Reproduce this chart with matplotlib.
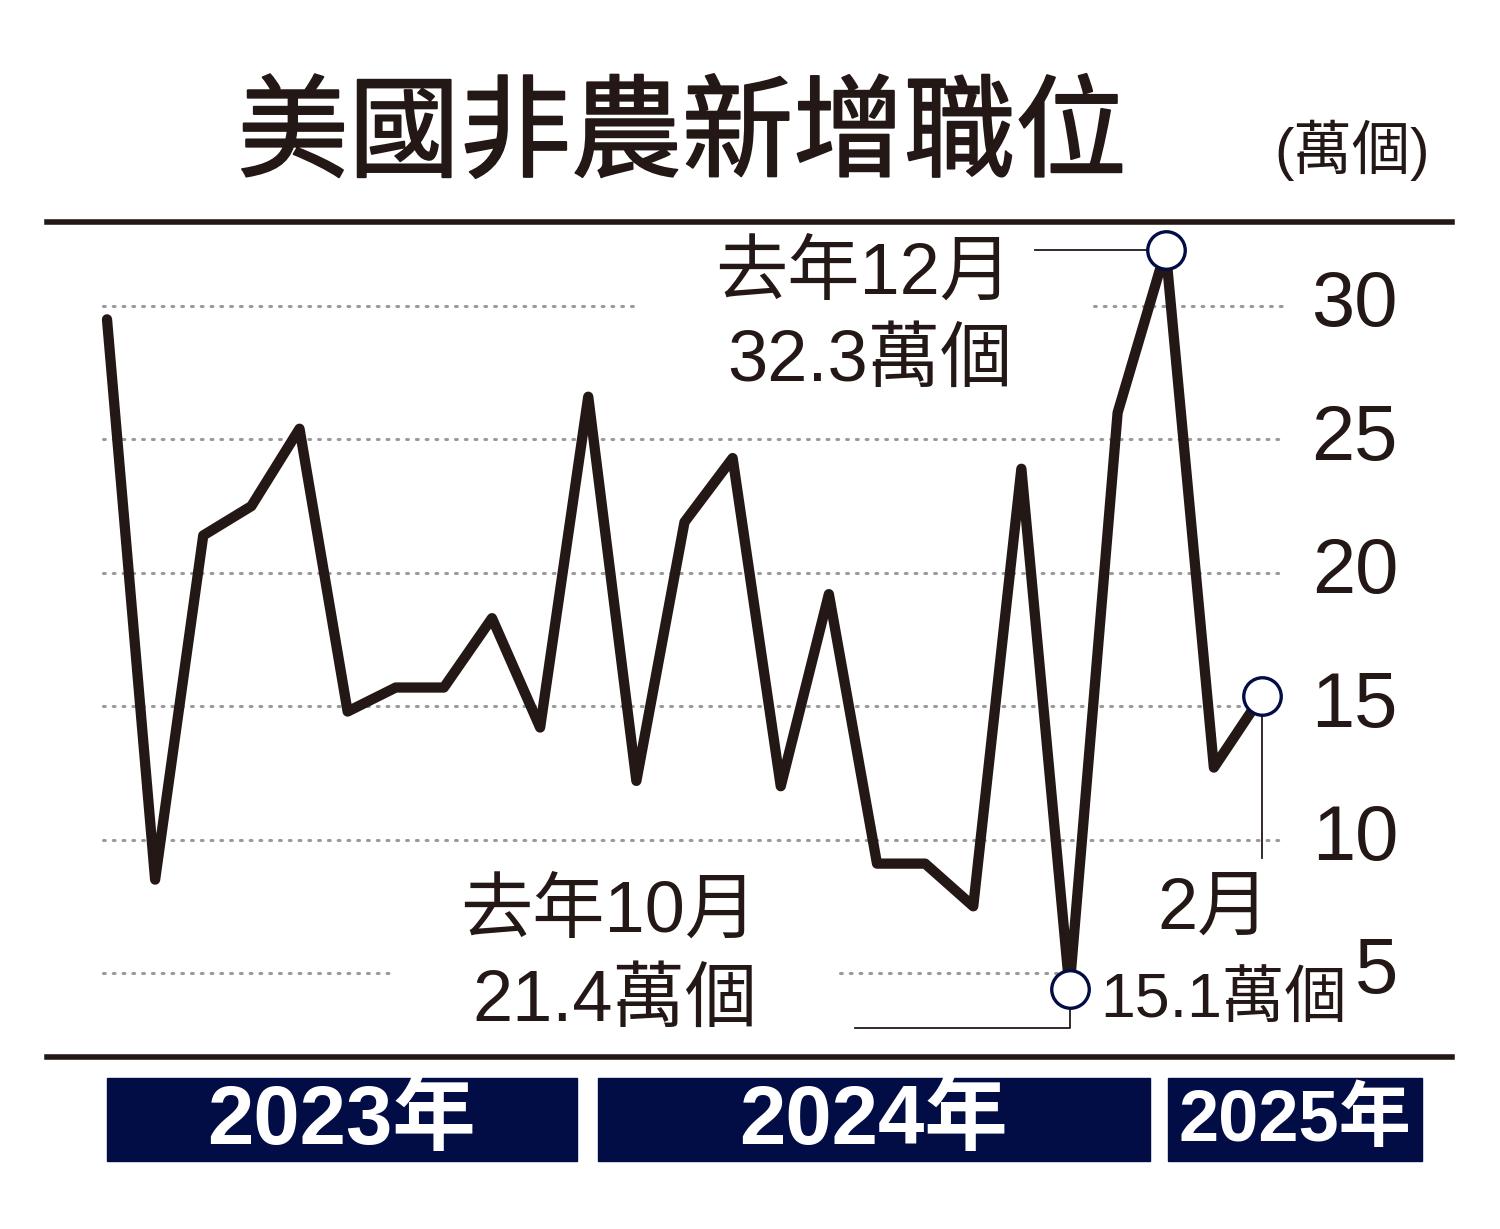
import matplotlib
matplotlib.use("Agg")
import matplotlib.pyplot as plt
import matplotlib.patheffects as pe
from matplotlib.patches import Rectangle

# 美國非農新增職位 (萬個), 2023年2月 - 2025年2月
months = ["2023-02", "2023-03", "2023-04", "2023-05", "2023-06", "2023-07",
          "2023-08", "2023-09", "2023-10", "2023-11", "2023-12",
          "2024-01", "2024-02", "2024-03", "2024-04", "2024-05", "2024-06",
          "2024-07", "2024-08", "2024-09", "2024-10", "2024-11", "2024-12",
          "2025-01", "2025-02"]
jobs = [29.5, 8.5, 21.4, 22.5, 25.4, 14.8, 15.7, 15.7, 18.3, 14.2, 26.6,
        12.2, 21.9, 24.3, 12.0, 19.2, 9.1, 9.1, 7.5, 23.9, 4.4, 26.0, 32.1,
        12.7, 15.4]
yticks = [5, 10, 15, 20, 25, 30]
years = ["2023年", "2024年", "2025年"]
marked = ["2024-10", "2024-12", "2025-02"]

INK = "#231815"
NAVY = "#020d45"
CJK = "Noto Sans CJK TC"
NUM = ["Liberation Sans", CJK, "DejaVu Sans"]

W, H = 1500, 1229
fig = plt.figure(figsize=(W / 100, H / 100), dpi=100)

# axes area between the two black rules
ax = fig.add_axes([47 / W, 1 - 1057 / H, 1405 / W, 835 / H])
x0, dx = 107, 48.125          # pixel of first month and step


def px2x(px):
    return (px - x0) / dx


y30, ystep = 306, 26.68        # pixel of 30 and pixels per unit


def py2y(py):
    return 30 - (py - y30) / ystep


ax.set_xlim(px2x(47), px2x(1452))
ax.set_ylim(py2y(1057), py2y(222))
ax.set_xticks([])
ax.set_yticks([])
for s in ["left", "right"]:
    ax.spines[s].set_visible(False)
for s in ["top", "bottom"]:
    ax.spines[s].set_linewidth(4)
    ax.spines[s].set_color(INK)

# dotted grid, broken where the notes sit
gaps = {30: [(103, 640), (1094, 1282)], 5: [(103, 389), (840, 1057)]}
for v in yticks:
    for a, b in gaps.get(v, [(103, 1282)]):
        ax.plot([px2x(a), px2x(b)], [v, v], color="#9a9a9a", lw=2.2,
                linestyle=(0, (0.6, 2.6)), dash_capstyle="round", zorder=1)
    ax.text(1 - 54 / 1405, v, str(v), transform=ax.get_yaxis_transform(),
            ha="right", va="center", fontsize=56, color=INK, family=NUM)

xs = list(range(len(jobs)))
ax.plot(xs, jobs, color=INK, lw=7.4, solid_joinstyle="round",
        solid_capstyle="round", zorder=3)

# leader lines
i_oct, i_dec, i_feb = [months.index(m) for m in marked]
ax.plot([px2x(1035), i_dec], [jobs[i_dec], jobs[i_dec]], color=INK, lw=1.3, zorder=2)
ax.plot([i_oct, i_oct, px2x(855)], [jobs[i_oct], py2y(1028), py2y(1028)],
        color=INK, lw=1.3, zorder=2)
ax.plot([i_feb, i_feb], [jobs[i_feb], py2y(858)], color=INK, lw=1.3, zorder=2)

ax.scatter([i_oct, i_dec, i_feb], [jobs[i_oct], jobs[i_dec], jobs[i_feb]],
           s=27 ** 2, facecolor="white", edgecolor=NAVY, linewidth=2.4, zorder=5)

# notes
notes = [(1012, 275, "去年12月", "right"), (1012, 362, "32.3萬個", "right"),
         (757, 913, "去年10月", "right"), (757, 1002, "21.4萬個", "right"),
         (1214, 910, "2月", "center")]
for px, py, s, ha in notes:
    ax.text(px2x(px), py2y(py), s, ha=ha, va="center", fontsize=52,
            color=INK, family=NUM)
ax.text(px2x(1100), py2y(1000), "15.1萬個", ha="left", va="center",
        fontsize=45, color=INK, family=NUM)

# title and unit
title = fig.text(682 / W, 1 - 136 / H, "美國非農新增職位", ha="center",
                 va="center", fontsize=80, color=INK, family=CJK)
title.set_path_effects([pe.withStroke(linewidth=1.4, foreground=INK)])
fig.text(1352 / W, 1 - 150 / H, "(萬個)", ha="center", va="center",
         fontsize=42, color=INK, family=NUM)

# year bars
bars = [(107, 577), (598, 1150), (1168, 1422)]
sizes = [60, 60, 52]
for (a, b), lab, fs in zip(bars, years, sizes):
    fig.patches.append(Rectangle((a / W, 1 - 1161 / H), (b - a) / W, 83 / H,
                                 transform=fig.transFigure, color=NAVY, zorder=1))
    fig.text((a + b) / 2 / W, 1 - 1122 / H, lab, ha="center", va="center",
             fontsize=fs, color="white", weight="bold", family=NUM, zorder=2)

fig.savefig("out.png", dpi=100, facecolor="white")
